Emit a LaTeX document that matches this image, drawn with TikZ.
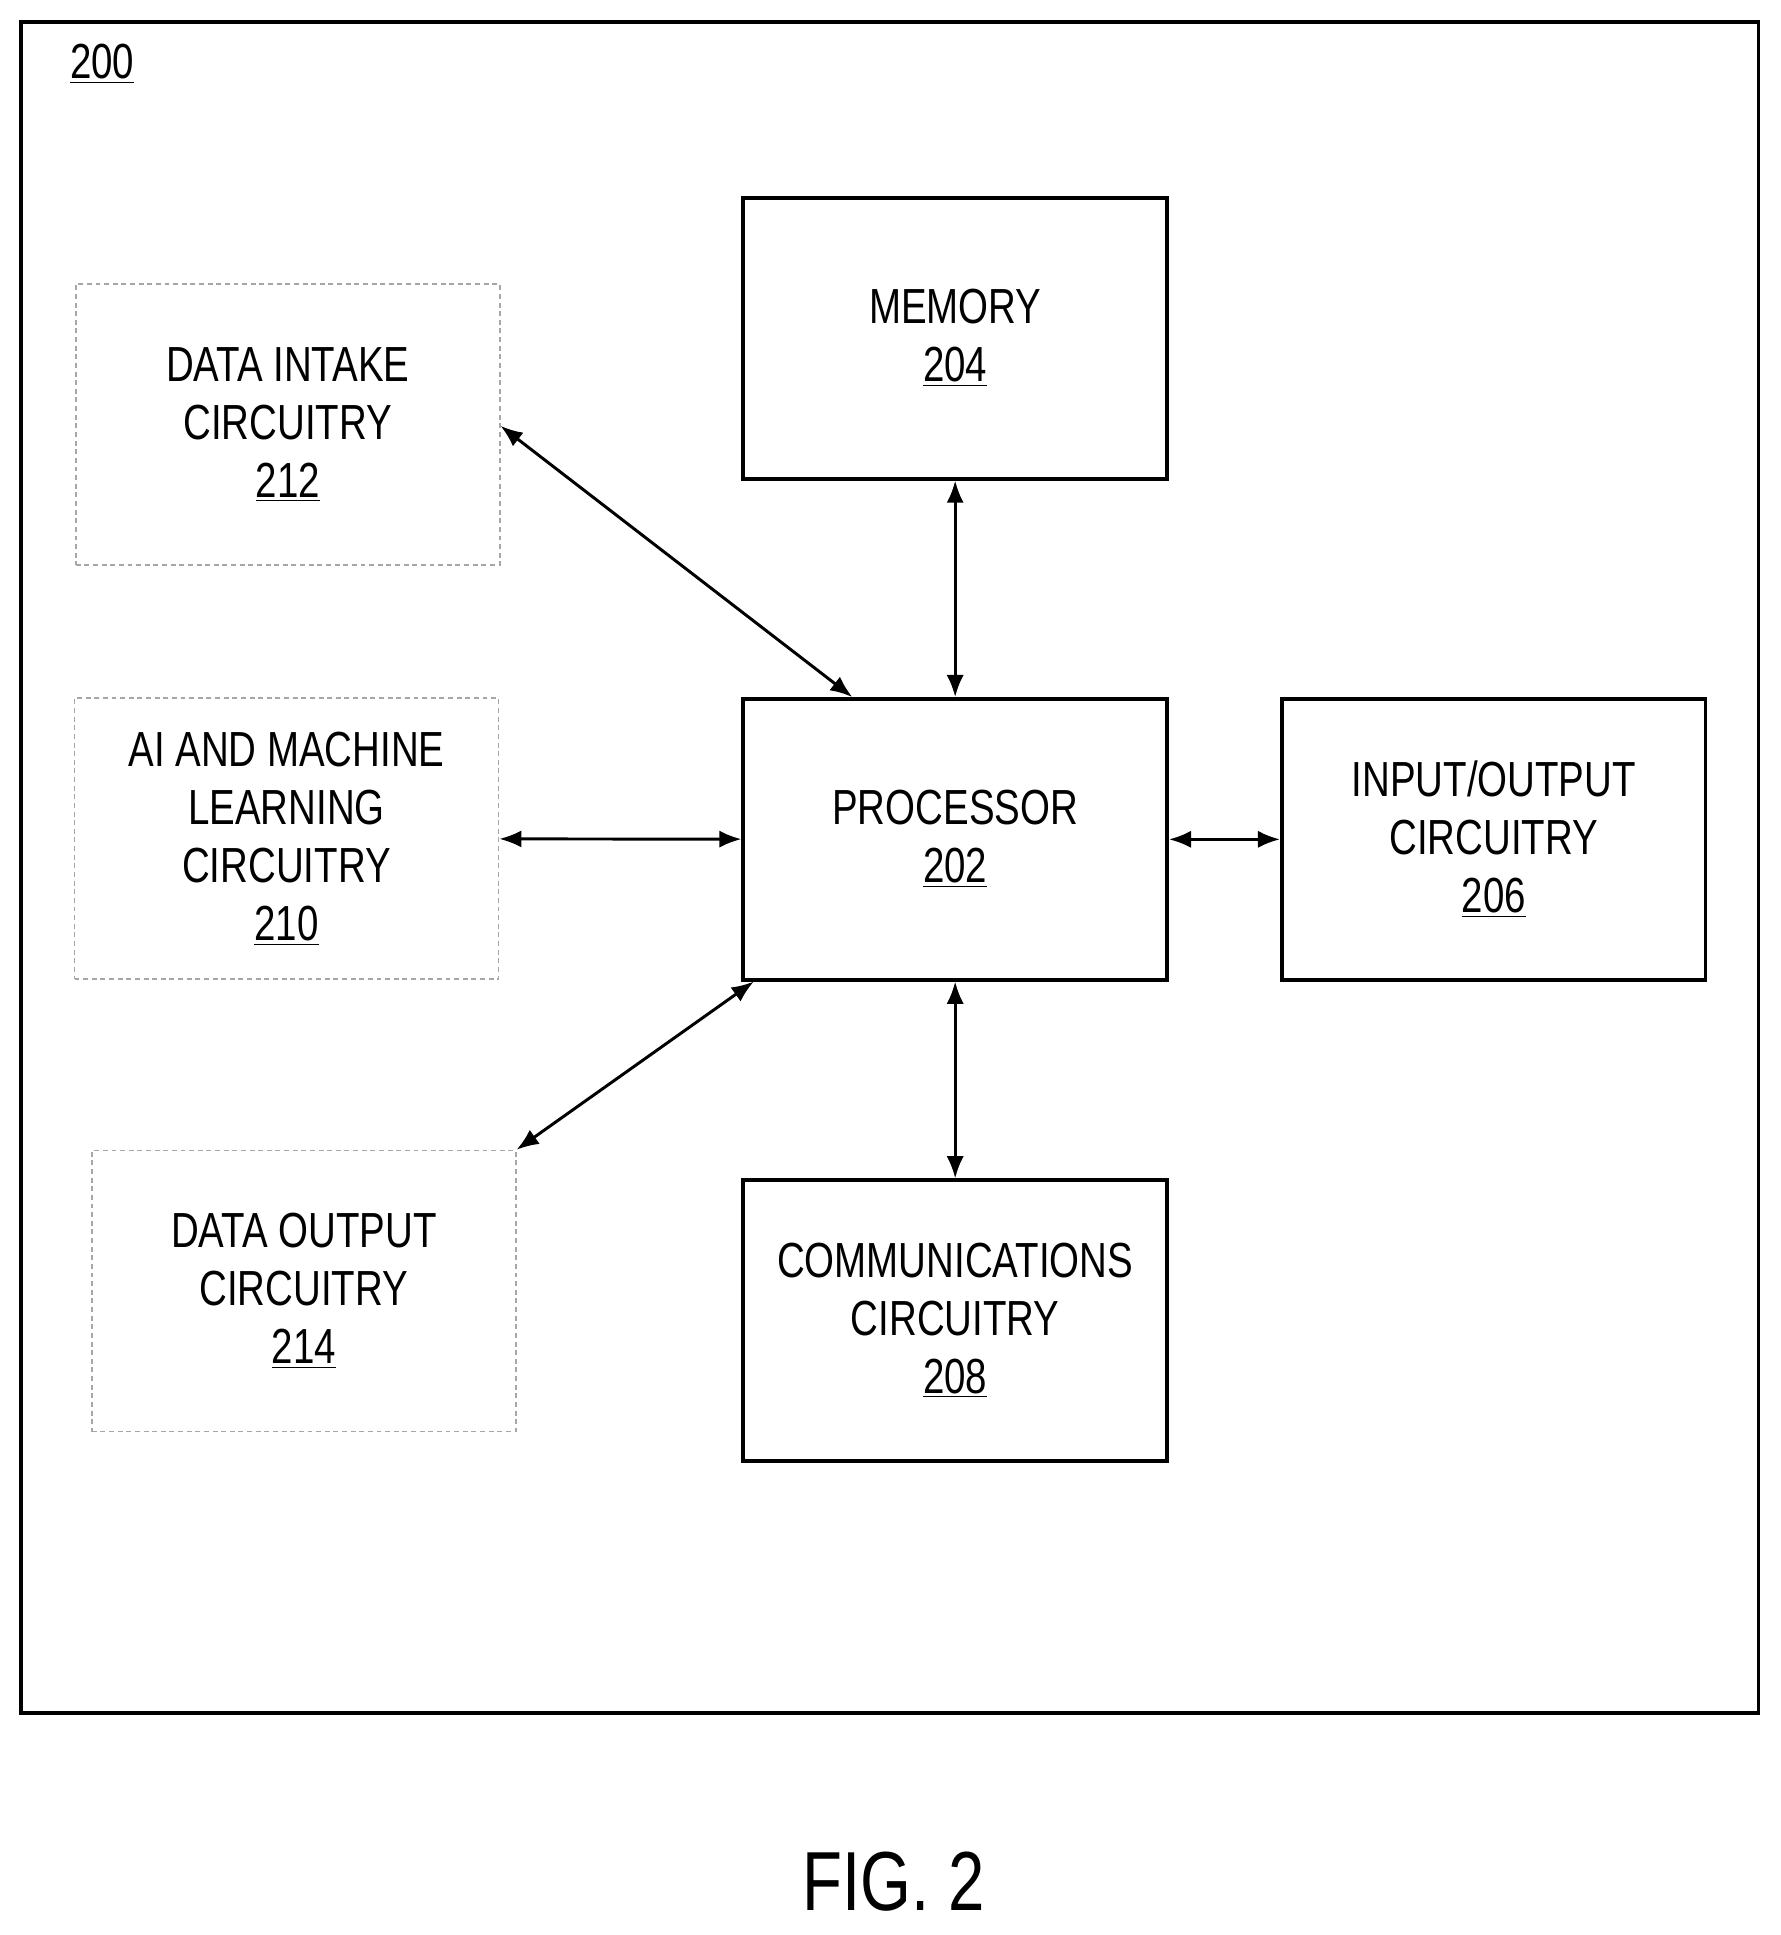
\documentclass[tikz,border=0pt]{standalone}
\usepackage{fontspec}
\setmainfont{Liberation Sans}[FakeStretch=0.78]
\usetikzlibrary{arrows.meta}
\tikzset{
    block/.style = {draw, line width=1.4pt, minimum width=172pt, minimum height=114pt, text centered, align=center, font=\fontsize{20}{23.5}\selectfont},
    dblock/.style = {block, draw=gray!70, line width=0.6pt, dash pattern=on 2pt off 1.5pt},
    link/.style = {{Latex[length=9pt,width=7pt]}-{Latex[length=9pt,width=7pt]}, line width=1.2pt}
}
\newcommand{\refnum}[1]{\underline{#1}}
\begin{document}
\begin{tikzpicture}[x=0.5pt, y=-0.5pt]
    \useasboundingbox (0,0) rectangle (1445,1570);
    \draw[line width=1.4pt] (17,18) rectangle (1427,1390);
    \node[font=\fontsize{20}{23}\selectfont] (lbl) at (83,52) {\refnum{200}};

    \node[block] (mem) at (775,274.5) {MEMORY\\\refnum{204}};
    \node[block] (proc) at (775,681) {PROCESSOR\\\refnum{202}};
    \node[block] (io) at (1212,681) {INPUT/OUTPUT\\CIRCUITRY\\\refnum{206}};
    \node[block] (comm) at (775,1071.5) {COMMUNICATIONS\\CIRCUITRY\\\refnum{208}};
    \node[dblock] (intake) at (233.5,344.5) {DATA INTAKE\\CIRCUITRY\\\refnum{212}};
    \node[dblock] (ai) at (232.5,680.5) {AI AND MACHINE\\LEARNING\\CIRCUITRY\\\refnum{210}};
    \node[dblock] (out) at (246.5,1047.5) {DATA OUTPUT\\CIRCUITRY\\\refnum{214}};

    \draw[link] (mem) -- (proc);
    \draw[link] (proc) -- (io);
    \draw[link] (proc) -- (comm);
    \draw[link] (ai) -- (proc);
    \draw[link] (intake.east) ++(0,1) -- ([xshift=45]proc.north west);
    \draw[link] (out.north east) -- ([xshift=5]proc.south west);

    \node[font=\fontsize{34}{40}\selectfont] (fig) at (725,1527) {FIG. 2};
\end{tikzpicture}
\end{document}
